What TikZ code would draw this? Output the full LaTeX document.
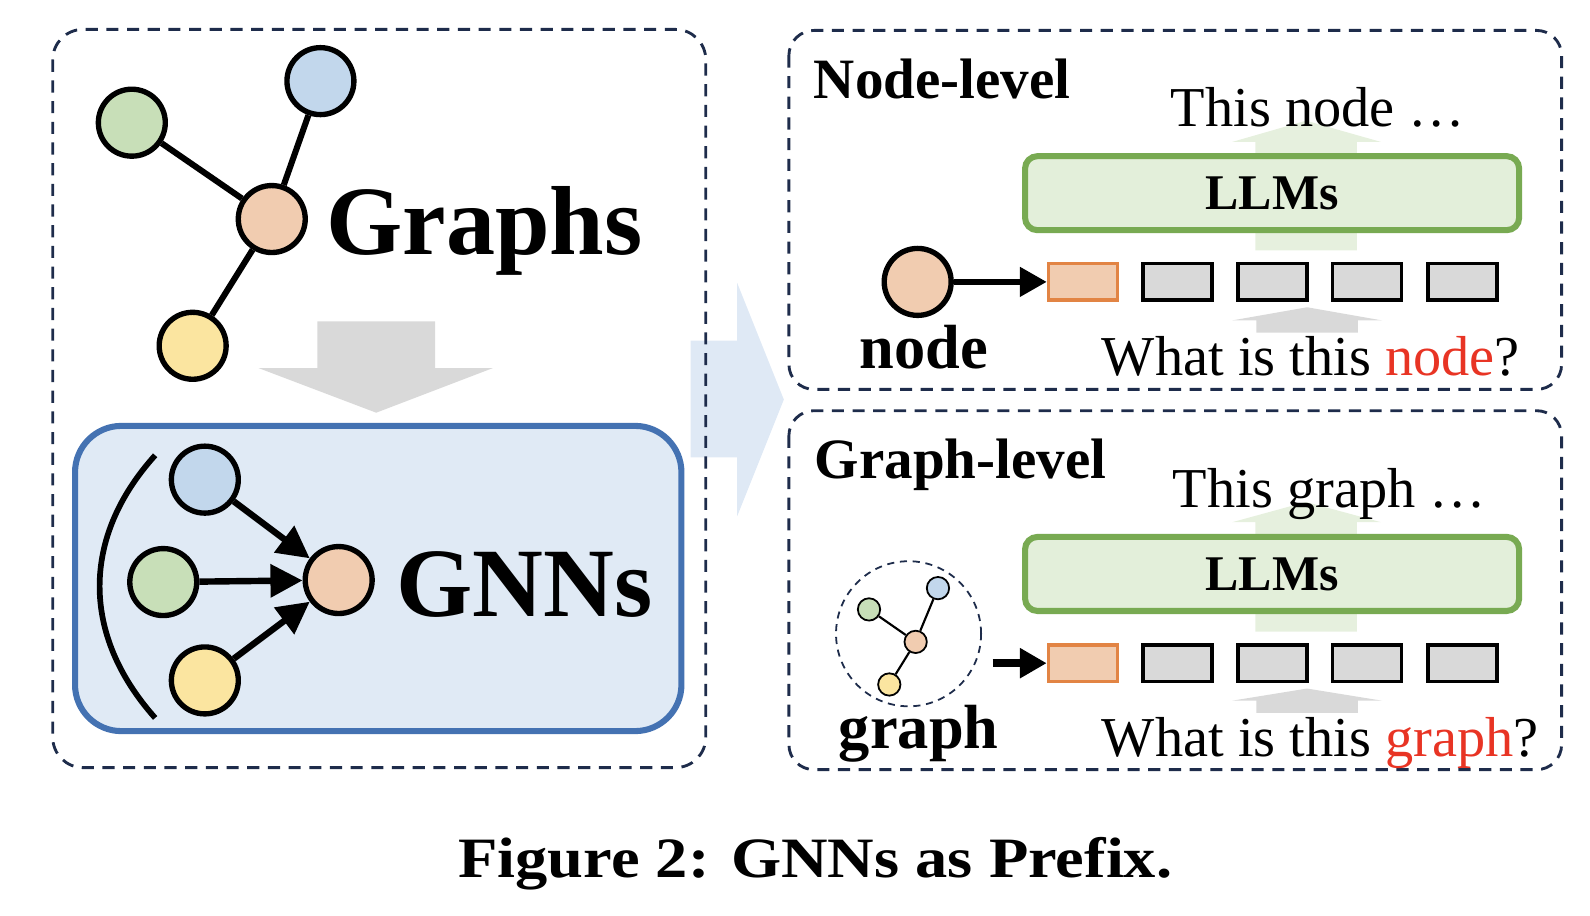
\documentclass[tikz,border=0pt]{standalone}
\usepackage{fontspec}
\setmainfont{Liberation Serif}
\usepackage{graphicx}
\usetikzlibrary{arrows.meta,positioning}
\definecolor{nodegreen}{RGB}{200,223,184}
\definecolor{nodeblue}{RGB}{194,215,236}
\definecolor{nodeorange}{RGB}{241,204,176}
\definecolor{nodeyellow}{RGB}{251,229,160}
\definecolor{gnnfill}{RGB}{224,234,245}
\definecolor{gnnborder}{RGB}{68,114,178}
\definecolor{llmfill}{RGB}{227,239,218}
\definecolor{llmborder}{RGB}{120,170,82}
\definecolor{upgreen}{RGB}{230,240,222}
\definecolor{tokenorange}{RGB}{226,132,68}
\definecolor{tokengray}{RGB}{217,217,217}
\definecolor{framenavy}{RGB}{30,44,75}
\definecolor{flowblue}{RGB}{223,233,245}
\definecolor{qred}{RGB}{232,52,36}
\newcommand{\graphsfont}{\fontsize{27.5}{30}\selectfont\bfseries}
\newcommand{\panelfont}{\fontsize{16}{18}\selectfont\bfseries}
\newcommand{\llmfont}{\fontsize{14}{16}\selectfont\bfseries}
\newcommand{\inputfont}{\fontsize{17.5}{20}\selectfont\bfseries}
\newcommand{\promptfont}{\fontsize{15.8}{18}\selectfont}
\newcommand{\capfont}{\fontsize{16}{18}\selectfont\bfseries}

\begin{document}
\begin{tikzpicture}[x=0.01cm, y=-0.01cm,
    gnode/.style={circle, draw=black, line width=1.5pt, minimum size=0.66cm, inner sep=0pt},
    mininode/.style={circle, draw=black, line width=0.5pt, minimum size=0.22cm, inner sep=0pt},
    edge/.style={line width=1.7pt},
    miniedge/.style={line width=0.6pt},
    msgarrow/.style={line width=1.8pt, -{Triangle[length=9pt,width=9pt]}},
    tokarrow/.style={line width=1.6pt, -{Triangle[length=7.5pt,width=8pt]}},
    frame/.style={draw=framenavy, line width=0.8pt, dash pattern=on 3.4pt off 2.4pt},
    llmbox/.style={rectangle, rounded corners=3.5pt, draw=llmborder, line width=1.7pt, fill=llmfill, minimum width=4.87cm, minimum height=0.73cm, font=\llmfont},
    token/.style={rectangle, inner sep=0pt, minimum width=0.68cm, minimum height=0.36cm},
    graytoken/.style={token, fill=tokengray, draw=black, line width=1pt},
    headtoken/.style={token, fill=nodeorange, draw=tokenorange, line width=1pt},
    txt/.style={inner sep=0pt, anchor=base west}
]
\useasboundingbox (0,0) rectangle (1568,903);

% Flow arrow between the panels
\fill[flowblue] (681,336) -- (727,336) -- (727,279) -- (773,394) -- (727,509) -- (727,451) -- (681,451) -- cycle;

% Frames
\draw[frame, rounded corners=8.5pt] (52,29) rectangle (696,757);
\draw[frame, rounded corners=7pt] (778,30) rectangle (1540,384);
\draw[frame, rounded corners=7pt] (778,405) rectangle (1540,759);

% Graphs
\node[gnode, fill=nodegreen] (g1) at (130,121) {};
\node[gnode, fill=nodeblue] (g2) at (316,80) {};
\node[gnode, fill=nodeorange] (g0) at (268,216) {};
\node[gnode, fill=nodeyellow] (g3) at (190,341) {};
\draw[edge] (g1) -- (g0);
\draw[edge] (g2) -- (g0);
\draw[edge] (g3) -- (g0);
\node[txt, font=\graphsfont] (graphstxt) at (321,251) {Graphs};

% Down arrow
\fill[tokengray] (313,317) -- (429,317) -- (429,363) -- (486,363) -- (371,407) -- (255,363) -- (313,363) -- cycle;

% GNNs
\draw[gnnborder, fill=gnnfill, line width=1.7pt, rounded corners=13pt] (74,420) rectangle (672,721);
\draw[line width=1.6pt] (153,449) .. controls (80,530) and (80,626) .. (153,708);
\node[gnode, fill=nodeblue] (n1) at (202,473) {};
\node[gnode, fill=nodegreen] (n2) at (161,574) {};
\node[gnode, fill=nodeyellow] (n3) at (202,671) {};
\node[gnode, fill=nodeorange] (n0) at (334,572) {};
\draw[msgarrow] (n1) -- (n0);
\draw[msgarrow] (n2) -- (n0);
\draw[msgarrow] (n3) -- (n0);
\node[txt, font=\graphsfont] (gnnstxt) at (390,608) {GNNs};

% Node-level
\fill[upgreen] (1238,247) -- (1238,140) -- (1215,140) -- (1288,119) -- (1362,140) -- (1338,140) -- (1338,247) -- cycle;
\fill[tokengray] (1239,328) -- (1239,316) -- (1215,316) -- (1289,303) -- (1363,316) -- (1339,316) -- (1339,328) -- cycle;
\node[txt, font=\panelfont] (nodelevel) at (802,97) {Node-level};
\node[txt, font=\promptfont] (nodeans) at (1154,125) {This node …};
\node[llmbox] (llm1) at (1254.5,190.5) {LLMs};
\node[gnode, fill=nodeorange] (nodeicon) at (905,278) {};
\node[headtoken] (qa0) at (1068,278) {};
\foreach \x [count=\i] in {1161,1255,1348,1442}
    \node[graytoken] (qa\i) at (\x,278) {};
\draw[tokarrow] (nodeicon) -- (qa0);
\node[inner sep=0pt, anchor=base, font=\inputfont] (nodelabel) at (911,363) {node};
\node[txt, font=\promptfont] (nodeq) at (1086,370) {What is this {\color{qred}node}?};

% Graph-level
\fill[upgreen] (1238,623) -- (1238,515) -- (1215,515) -- (1288,495) -- (1362,515) -- (1338,515) -- (1338,623) -- cycle;
\fill[tokengray] (1239,703) -- (1239,691) -- (1215,691) -- (1289,679) -- (1363,691) -- (1339,691) -- (1339,703) -- cycle;
\node[txt, font=\panelfont] (graphlevel) at (803,472) {Graph-level};
\node[txt, font=\promptfont] (graphans) at (1156,500) {This graph …};
\node[llmbox] (llm2) at (1254.5,566) {LLMs};
\node[circle, draw=framenavy, line width=0.5pt, dash pattern=on 2pt off 1.6pt, minimum size=1.43cm, inner sep=0pt] (ring) at (896,625) {};
\node[mininode, fill=nodeblue] (m2) at (925,580) {};
\node[mininode, fill=nodegreen] (m1) at (857,601) {};
\node[mininode, fill=nodeorange] (m0) at (903,633) {};
\node[mininode, fill=nodeyellow] (m3) at (877,675) {};
\draw[miniedge] (m1) -- (m0);
\draw[miniedge] (m2) -- (m0);
\draw[miniedge] (m3) -- (m0);
\node[headtoken] (qb0) at (1068,654) {};
\foreach \x [count=\i] in {1161,1255,1348,1442}
    \node[graytoken] (qb\i) at (\x,654) {};
\coordinate (gstart) at (979,654);
\draw[tokarrow, line width=2.2pt] (gstart) -- (qb0);
\node[inner sep=0pt, anchor=base, font=\inputfont] (graphlabel) at (906,738) {graph};
\node[txt, font=\promptfont] (graphq) at (1086,746) {What is this {\color{qred}graph}?};

% Caption
\node[inner sep=0pt, anchor=base, font=\capfont] (caption) at (804,865) {\scalebox{1.13}[1]{Figure 2: GNNs as Prefix.}};

\end{tikzpicture}
\end{document}
